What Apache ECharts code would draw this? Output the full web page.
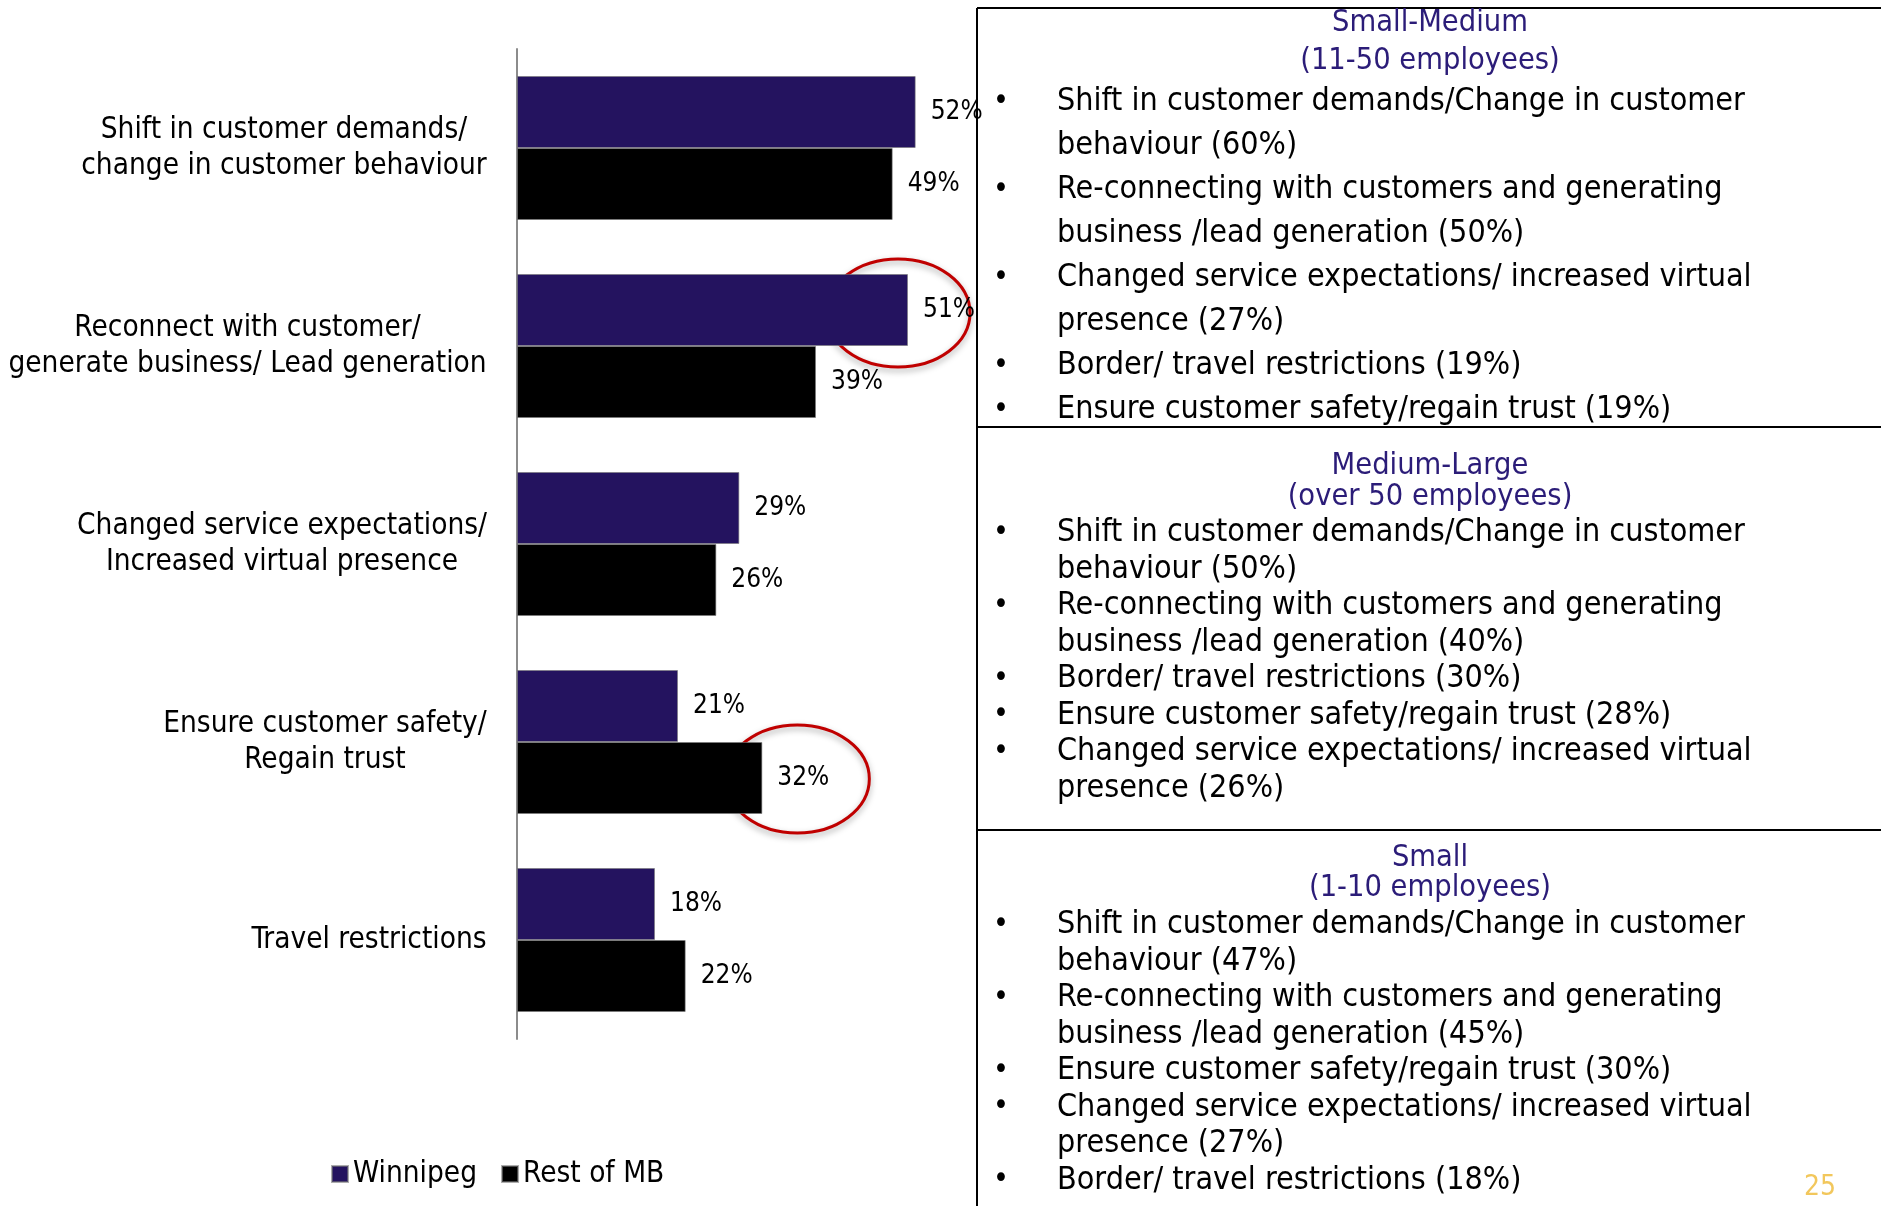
<!DOCTYPE html>
<html>
<head>
<meta charset="utf-8">
<script src="https://cdn.jsdelivr.net/npm/echarts@6/dist/echarts.min.js"></script>
<style>
  html, body { margin: 0; padding: 0; background: #fff; }
  #chart { width: 1881px; height: 1206px; }
</style>
</head>
<body>
<div id="chart"></div>
<script>
const FONT = '"Liberation Sans Narrow", "DejaVu Sans Condensed", Roboto, sans-serif';

// Chart data
const categories = [
  "Shift in customer demands/\nchange in customer behaviour",
  "Reconnect with customer/\ngenerate business/ Lead generation",
  "Changed service expectations/\nIncreased virtual presence",
  "Ensure customer safety/\nRegain trust",
  "Travel restrictions",
];
const seriesNames = ["Winnipeg", "Rest of MB"];
const winnipeg = [52, 51, 29, 21, 18];
const restOfMB = [49, 39, 26, 32, 22];

// Red circles drawn around these bars: [series index, category index]
const highlighted = [[0, 1], [1, 3]];

// Right-hand text panels
const panelTitles = ["Small-Medium", "Medium-Large", "Small"];
const panelSubtitles = ["(11-50 employees)", "(over 50 employees)", "(1-10 employees)"];
const smallMediumItems = [
  "Shift in customer demands/Change in customer\nbehaviour (60%)",
  "Re-connecting with customers and generating\nbusiness /lead generation (50%)",
  "Changed service expectations/ increased virtual\npresence (27%)",
  "Border/ travel restrictions (19%)",
  "Ensure customer safety/regain trust (19%)",
];
const mediumLargeItems = [
  "Shift in customer demands/Change in customer\nbehaviour (50%)",
  "Re-connecting with customers and generating\nbusiness /lead generation (40%)",
  "Border/ travel restrictions (30%)",
  "Ensure customer safety/regain trust (28%)",
  "Changed service expectations/ increased virtual\npresence (26%)",
];
const smallItems = [
  "Shift in customer demands/Change in customer\nbehaviour (47%)",
  "Re-connecting with customers and generating\nbusiness /lead generation (45%)",
  "Ensure customer safety/regain trust (30%)",
  "Changed service expectations/ increased virtual\npresence (27%)",
  "Border/ travel restrictions (18%)",
];
const panelItems = [smallMediumItems, mediumLargeItems, smallItems];
const pageNumber = "25";

const COLORS = ["#24135f", "#000000"];
const TITLE_COLOR = "#2b1c78";
const LABEL_SIZE = 29.5;
const PANEL_SIZE = 32;
const TITLE_SIZE = 30.5;

// layout of the right panels (pixels)
const panelLayout = [
  { titleY: 23, subY: 61, firstY: 102, lh: 44 },
  { titleY: 466, subY: 497, firstY: 533, lh: 36.5 },
  { titleY: 858, subY: 888, firstY: 925, lh: 36.5 },
];

// measure each category block so lines can be centred inside a right-aligned block
const ctx = document.createElement("canvas").getContext("2d");
ctx.font = `${LABEL_SIZE}px ${FONT}`;
const rich = {};
categories.forEach((c, i) => {
  const w = Math.max(...c.split("\n").map((l) => ctx.measureText(l).width));
  rich["c" + i] = {
    width: Math.ceil(w) + 2,
    align: "center",
    fontSize: LABEL_SIZE,
    fontFamily: FONT,
    color: "#000",
    lineHeight: 36,
  };
});

function panelGraphics() {
  const els = [];
  const line = (x1, y1, x2, y2) => ({
    type: "line",
    shape: { x1, y1, x2, y2 },
    style: { stroke: "#000", lineWidth: 2 },
  });
  els.push(line(977, 8, 977, 1206));
  els.push(line(977, 8, 1881, 8));
  els.push(line(977, 427, 1881, 427));
  els.push(line(977, 830, 1881, 830));

  const text = (t, x, y, opts) => ({
    type: "text",
    x,
    y,
    style: Object.assign(
      {
        text: t,
        fontSize: PANEL_SIZE,
        fontFamily: FONT,
        fill: "#000",
        align: "left",
        verticalAlign: "middle",
      },
      opts || {}
    ),
  });

  panelItems.forEach((items, p) => {
    const lay = panelLayout[p];
    els.push(text(panelTitles[p], 1430, lay.titleY, { align: "center", fill: TITLE_COLOR, fontSize: TITLE_SIZE }));
    els.push(text(panelSubtitles[p], 1430, lay.subY, { align: "center", fill: TITLE_COLOR, fontSize: TITLE_SIZE }));
    let row = 0;
    items.forEach((item) => {
      item.split("\n").forEach((l, k) => {
        const y = lay.firstY + row * lay.lh;
        if (k === 0) els.push(text("•", 1001, y, { align: "center", fontSize: 30 }));
        els.push(text(l, 1057, y));
        row++;
      });
    });
  });

  els.push(text(pageNumber, 1820, 1188, { align: "center", fill: "#f2c75c", fontSize: 28 }));
  return els;
}

const chart = echarts.init(document.getElementById("chart"), null, { renderer: "canvas" });

const dataSets = [winnipeg, restOfMB];

chart.setOption({
  backgroundColor: "#fff",
  animation: false,
  textStyle: { fontFamily: FONT },
  grid: { left: 517, top: 49, width: 460, height: 990, containLabel: false },
  legend: {
    data: seriesNames,
    left: 331,
    top: 1159,
    padding: 0,
    icon: "rect",
    itemWidth: 16,
    itemHeight: 16,
    itemGap: 24,
    textStyle: { fontSize: LABEL_SIZE, color: "#000", fontFamily: FONT },
  },
  xAxis: { type: "value", min: 0, max: 60, show: false },
  yAxis: {
    type: "category",
    data: categories,
    inverse: true,
    axisLine: { show: true, lineStyle: { color: "#8c8c8c", width: 2 } },
    axisTick: { show: false },
    axisLabel: {
      margin: 29,
      formatter: (value, index) =>
        value.split("\n").map((l) => `{c${index}|${l}}`).join("\n"),
      rich,
    },
  },
  series: seriesNames.map((name, s) => ({
    name,
    type: "bar",
    data: dataSets[s],
    barWidth: 72,
    barGap: "0%",
    itemStyle: { color: COLORS[s], borderColor: "rgba(120,120,120,0.6)", borderWidth: 1 },
    label: {
      show: true,
      position: "right",
      distance: 15,
      formatter: "{c}%",
      fontSize: 26,
      fontFamily: FONT,
      color: "#000",
    },
  })),
  graphic: panelGraphics(),
});

// circles around the highlighted bars, placed from the bar's own pixel position
const rings = highlighted.map(([s, c]) => {
  const v = dataSets[s][c];
  const [px, py] = chart.convertToPixel({ gridIndex: 0 }, [v, c]);
  const cy = py + (s === 0 ? -33 : 37);
  const cx = s === 0 ? px - 10 : px + 35;
  return {
    type: "ellipse",
    shape: { cx, cy, rx: 72, ry: 54 },
    style: {
      fill: "none",
      stroke: "#c00000",
      lineWidth: 3,
      shadowBlur: 6,
      shadowColor: "rgba(0,0,0,0.35)",
      shadowOffsetY: 3,
    },
  };
});
chart.setOption({ graphic: panelGraphics().concat(rings) });
</script>
</body>
</html>
